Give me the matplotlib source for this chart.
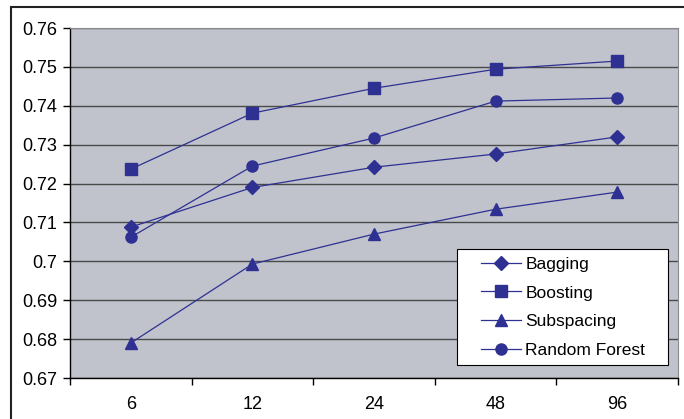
import matplotlib
matplotlib.use('Agg')
import matplotlib.pyplot as plt
from matplotlib.patches import Rectangle
import numpy as np

plt.rcParams['font.family'] = ['Liberation Sans', 'DejaVu Sans']

# データ
categories = ['6', '12', '24', '48', '96']
bagging = [0.7088, 0.7190, 0.7242, 0.7276, 0.7320]
boosting = [0.7237, 0.7381, 0.7445, 0.7494, 0.7515]
subspacing = [0.6790, 0.6993, 0.7070, 0.7134, 0.7178]
random_forest = [0.7062, 0.7245, 0.7317, 0.7412, 0.7420]
y_ticks = [0.67, 0.68, 0.69, 0.70, 0.71, 0.72, 0.73, 0.74, 0.75, 0.76]

color = '#2E3192'

fig = plt.figure(figsize=(6.84, 4.19), dpi=100)
ax = fig.add_axes([70 / 684, 1 - 378 / 419, 608 / 684, 350 / 419])
ax.set_facecolor('#C0C3CB')

x = np.arange(len(categories))
series = [('Bagging', bagging, 'D', 7), ('Boosting', boosting, 's', 8),
          ('Subspacing', subspacing, '^', 8), ('Random Forest', random_forest, 'o', 8)]
for name, vals, mk, ms in series:
    ax.plot(x, vals, color=color, linewidth=0.9, marker=mk, markersize=ms,
            markerfacecolor=color, markeredgecolor=color, label=name, zorder=3)

ax.set_xlim(-0.5, len(categories) - 0.5)
ax.set_ylim(0.67, 0.76)
ax.set_yticks(y_ticks)
ax.set_yticklabels([f'{v:g}' for v in y_ticks])
ax.set_xticks(x)
ax.set_xticklabels(categories)
ax.set_xticks(np.arange(len(categories) + 1) - 0.5, minor=True)
ax.tick_params(axis='x', which='major', length=0, pad=13, labelsize=13)
ax.tick_params(axis='x', which='minor', length=5, width=1, direction='out')
ax.tick_params(axis='y', length=5, width=1, direction='out', pad=4, labelsize=13)
ax.grid(axis='y', color='#4a4a4a', linewidth=1.0, zorder=1)
ax.set_axisbelow(True)

for side in ['top', 'right']:
    ax.spines[side].set_color('#8a8a8a')
for side in ['left', 'bottom']:
    ax.spines[side].set_color('black')
    ax.spines[side].set_linewidth(1.0)

# 凡例の枠
ax.add_patch(Rectangle((0.6365, 0.0371), 0.3471, 0.3315, transform=ax.transAxes,
                       facecolor='white', edgecolor='black', linewidth=0.8, zorder=4))
leg = ax.legend(loc='upper left', bbox_to_anchor=(0.676, 0.347), frameon=False,
                fontsize=12.5, handlelength=2.3, handletextpad=0.25,
                labelspacing=0.79, borderpad=0, borderaxespad=0)
leg.set_zorder(5)

# 外枠
fig.patches.append(Rectangle((11 / 684, -0.05), 1.0, 1 - 7 / 419 + 0.05,
                             transform=fig.transFigure, fill=False,
                             edgecolor='#222222', linewidth=1.5))

fig.savefig('out.png', dpi=100)
